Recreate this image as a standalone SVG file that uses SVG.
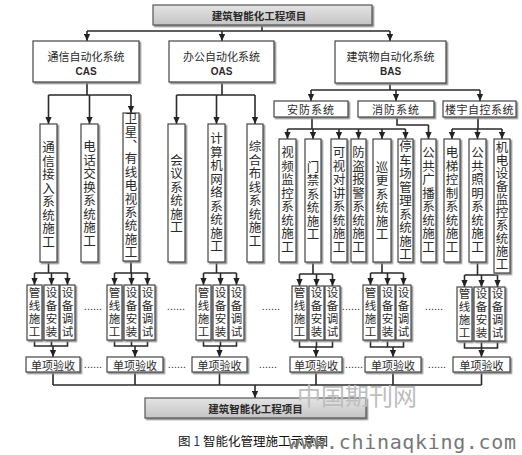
<svg xmlns="http://www.w3.org/2000/svg" width="522" height="455" viewBox="0 0 522 455">
<defs>
<linearGradient id="gray" x1="0" y1="0" x2="0" y2="1"><stop offset="0" stop-color="#e4e4e4"/><stop offset="1" stop-color="#c4c4c4"/></linearGradient>
<filter id="ds" x="-20%" y="-20%" width="140%" height="140%"><feDropShadow dx="1.5" dy="1.5" stdDeviation="0.4" flood-color="#8a8a8a"/></filter>
<marker id="ah" viewBox="0 0 10 10" refX="10" refY="5" markerWidth="7" markerHeight="7" markerUnits="userSpaceOnUse" orient="auto"><path d="M0,0.5 L10,5 L0,9.5 z" fill="#222"/></marker>
<style>
.box{fill:#fff;stroke:#444;stroke-width:1.2;filter:url(#ds)}
.gbox{fill:url(#gray);stroke:#555;stroke-width:1.2;filter:url(#ds)}
.ln{fill:none;stroke:#2a2a2a;stroke-width:1.6}
.ar{fill:none;stroke:#2a2a2a;stroke-width:1.6;marker-end:url(#ah)}
.t{font-family:"Noto Sans CJK SC","Liberation Sans",sans-serif;fill:#2a2a2a;text-anchor:middle;dominant-baseline:central}
.h{font-size:11px}
.b{font-size:10.5px;font-weight:bold}
.v{font-family:"Noto Sans CJK SC",sans-serif;fill:#2a2a2a;font-size:12.5px;writing-mode:vertical-rl;text-anchor:middle;letter-spacing:1px}
.vs{font-family:"Noto Sans CJK SC",sans-serif;fill:#2a2a2a;font-size:11.5px;writing-mode:vertical-rl;text-anchor:middle;letter-spacing:1.5px}
.dots{font-family:"Liberation Sans",sans-serif;font-size:11px;fill:#333;text-anchor:middle}
</style>
</defs>
<rect width="522" height="455" fill="#fff"/>

<g id="connectors">
<path class="ln" d="M262,25 V31 M87,31 H390"/>
<path class="ar" d="M87,31 V41"/><path class="ar" d="M222,31 V41"/><path class="ar" d="M390,31 V41"/>
<path class="ln" d="M87,82 V95 M48.5,95 H131"/>
<path class="ar" d="M48.5,95 V124"/><path class="ar" d="M89.5,95 V124"/><path class="ar" d="M131,95 V113"/>
<path class="ln" d="M222,82 V95 M176.5,95 H255"/>
<path class="ar" d="M176.5,95 V124"/><path class="ar" d="M216.5,95 V124"/><path class="ar" d="M255,95 V124"/>
<path class="ln" d="M390,83 V90 M311,90 H480"/>
<path class="ar" d="M311,90 V101"/><path class="ar" d="M396,90 V101"/><path class="ar" d="M480,90 V101"/>
<path class="ln" d="M312,117 V129 M287.5,129 H405.5"/>
<path class="ar" d="M287.5,129 V139"/><path class="ar" d="M313,129 V139"/><path class="ar" d="M339,129 V139"/><path class="ar" d="M358.5,129 V139"/><path class="ar" d="M382,129 V139"/><path class="ar" d="M405.5,129 V139"/>
<path class="ln" d="M397,117 V125 H428.5"/><path class="ar" d="M428.5,125 V139"/>
<path class="ln" d="M478,117 V129 M452,129 H502"/>
<path class="ar" d="M452,129 V139"/><path class="ar" d="M477.5,129 V139"/><path class="ar" d="M502,129 V139"/>
<!-- group 1 -->
<path class="ln" d="M48.5,262 V273 M34.5,273 H67.5 M34.5,340 V346 H67.5 V340 M51.5,340 V346"/>
<path class="ar" d="M34.5,273 V285"/><path class="ar" d="M51.5,273 V285"/><path class="ar" d="M67.5,273 V285"/><path class="ar" d="M53,346 V357"/>
<!-- group 2 -->
<path class="ln" d="M131,261 V273 M114.5,273 H147.5 M114.5,340 V346 H147.5 V340 M131.5,340 V346"/>
<path class="ar" d="M114.5,273 V285"/><path class="ar" d="M131.5,273 V285"/><path class="ar" d="M147.5,273 V285"/><path class="ar" d="M135,346 V357"/>
<!-- group 3 -->
<path class="ln" d="M216.5,262 V273 M203.5,273 H236.5 M203.5,340 V346 H236.5 V340 M220.5,340 V346"/>
<path class="ar" d="M203.5,273 V285"/><path class="ar" d="M220.5,273 V285"/><path class="ar" d="M236.5,273 V285"/><path class="ar" d="M219.5,346 V357"/>
<!-- group 4 -->
<path class="ln" d="M313,262 V274 M299.5,274 H332.5 M299.5,340 V347 H332.5 V340 M316.5,340 V347"/>
<path class="ar" d="M299.5,274 V286"/><path class="ar" d="M316.5,274 V286"/><path class="ar" d="M332.5,274 V286"/><path class="ar" d="M316,347 V357"/>
<!-- group 5 -->
<path class="ln" d="M382,262 V273 M370.5,273 H403.5 M370.5,340 V347 H403.5 V340 M387.5,340 V347"/>
<path class="ar" d="M370.5,273 V285"/><path class="ar" d="M387.5,273 V285"/><path class="ar" d="M403.5,273 V285"/><path class="ar" d="M393,347 V357"/>
<!-- group 6 -->
<path class="ln" d="M477.5,262 V275 M464.5,275 H497.5 M464.5,341 V348 H497.5 V341 M481.5,341 V348"/>
<path class="ar" d="M464.5,275 V287"/><path class="ar" d="M481.5,275 V287"/><path class="ar" d="M497.5,275 V287"/><path class="ar" d="M481.5,348 V357"/>
<!-- bottom -->
<path class="ln" d="M53,372 V385 M135,372 V385 M219.5,372 V385 M316,372 V385 M393,372 V385 M481.5,372 V385 M53,385 H481.5"/>
<path class="ar" d="M255,385 V398"/>
</g>

<g id="top"><rect class="gbox" x="153" y="5" width="219" height="20"/><text class="t b" x="259" y="15.5">建筑智能化工程项目</text></g>
<g id="cas"><rect class="box" x="33" y="41" width="106" height="41"/><text class="t h" x="86" y="56">通信自动化系统</text><text class="t" x="86" y="71" style="font-family:'Liberation Sans',sans-serif;font-size:10px;font-weight:bold">CAS</text></g>
<g id="oas"><rect class="box" x="169" y="41" width="105" height="41"/><text class="t h" x="221.5" y="56">办公自动化系统</text><text class="t" x="221.5" y="71" style="font-family:'Liberation Sans',sans-serif;font-size:10px;font-weight:bold">OAS</text></g>
<g id="bas"><rect class="box" x="335" y="41" width="111" height="42"/><text class="t h" x="390.5" y="56">建筑物自动化系统</text><text class="t" x="390.5" y="71" style="font-family:'Liberation Sans',sans-serif;font-size:10px;font-weight:bold">BAS</text></g>
<g id="anfang"><rect class="box" x="274" y="101" width="74" height="16"/><text class="t h" x="311" y="109" style="letter-spacing:1px">安防系统</text></g>
<g id="xiaofang"><rect class="box" x="358" y="101" width="76" height="16"/><text class="t h" x="396" y="109" style="letter-spacing:1px">消防系统</text></g>
<g id="louyu"><rect class="box" x="443" y="101" width="73" height="16"/><text class="t h" x="479.5" y="109" style="letter-spacing:0.5px">楼宇自控系统</text></g>

<g id="a1"><rect class="box" x="40" y="124" width="17" height="138"/><text class="v" x="48.5" y="195">通信接入系统施工</text></g>
<g id="a2"><rect class="box" x="81" y="124" width="17" height="138"/><text class="v" x="89.5" y="194">电话交换系统施工</text></g>
<g id="a3"><rect class="box" x="123" y="113" width="16" height="148"/><text class="v" x="131" y="186" style="letter-spacing:0.9px">卫星、有线电视系统施工</text></g>
<g id="b1"><rect class="box" x="168" y="124" width="17" height="138"/><text class="v" x="176.5" y="194">会议系统施工</text></g>
<g id="b2"><rect class="box" x="208" y="124" width="17" height="138"/><text class="v" x="216.5" y="193">计算机网络系统施工</text></g>
<g id="b3"><rect class="box" x="247" y="124" width="16" height="138"/><text class="v" x="255" y="194">综合布线系统施工</text></g>
<g id="c1"><rect class="box" x="279" y="139" width="17" height="123"/><text class="v" x="287.5" y="200">视频监控系统施工</text></g>
<g id="c2"><rect class="box" x="305" y="139" width="16" height="123"/><text class="v" x="313" y="201">门禁系统施工</text></g>
<g id="c3"><rect class="box" x="331" y="139" width="16" height="123"/><text class="v" x="339" y="200">可视对讲系统施工</text></g>
<g id="c4"><rect class="box" x="351" y="139" width="15" height="123"/><text class="v" x="358.5" y="200">防盗报警系统施工</text></g>
<g id="c5"><rect class="box" x="373" y="139" width="18" height="123"/><text class="v" x="382" y="201">巡更系统施工</text></g>
<g id="c6"><rect class="box" x="398" y="139" width="15" height="123"/><text class="v" x="405.5" y="201">停车场管理系统施工</text></g>
<g id="c7"><rect class="box" x="421" y="139" width="15" height="123"/><text class="v" x="428.5" y="200">公共广播系统施工</text></g>
<g id="c8"><rect class="box" x="444" y="139" width="16" height="123"/><text class="v" x="452" y="200">电梯控制系统施工</text></g>
<g id="c9"><rect class="box" x="469" y="139" width="17" height="123"/><text class="v" x="477.5" y="200">公共照明系统施工</text></g>
<g id="c10"><rect class="box" x="494" y="139" width="16" height="134"/><text class="v" x="502" y="206" style="letter-spacing:0.6px">机电设备监控系统施工</text></g>

<g id="g1">
<rect class="box" x="27" y="285" width="15" height="55"/><text class="vs" x="34.5" y="312.5">管线施工</text>
<rect class="box" x="44" y="285" width="15" height="55"/><text class="vs" x="51.5" y="312.5">设备安装</text>
<rect class="box" x="60" y="285" width="15" height="55"/><text class="vs" x="67.5" y="312.5">设备调试</text>
</g>
<g id="g2">
<rect class="box" x="107" y="285" width="15" height="55"/><text class="vs" x="114.5" y="312.5">管线施工</text>
<rect class="box" x="124" y="285" width="15" height="55"/><text class="vs" x="131.5" y="312.5">设备安装</text>
<rect class="box" x="140" y="285" width="15" height="55"/><text class="vs" x="147.5" y="312.5">设备调试</text>
</g>
<g id="g3">
<rect class="box" x="196" y="285" width="15" height="55"/><text class="vs" x="203.5" y="312.5">管线施工</text>
<rect class="box" x="213" y="285" width="15" height="55"/><text class="vs" x="220.5" y="312.5">设备安装</text>
<rect class="box" x="229" y="285" width="15" height="55"/><text class="vs" x="236.5" y="312.5">设备调试</text>
</g>
<g id="g4">
<rect class="box" x="292" y="286" width="15" height="54"/><text class="vs" x="299.5" y="313">管线施工</text>
<rect class="box" x="309" y="286" width="15" height="54"/><text class="vs" x="316.5" y="313">设备安装</text>
<rect class="box" x="325" y="286" width="15" height="54"/><text class="vs" x="332.5" y="313">设备调试</text>
</g>
<g id="g5">
<rect class="box" x="363" y="285" width="15" height="55"/><text class="vs" x="370.5" y="312.5">管线施工</text>
<rect class="box" x="380" y="285" width="15" height="55"/><text class="vs" x="387.5" y="312.5">设备安装</text>
<rect class="box" x="396" y="285" width="15" height="55"/><text class="vs" x="403.5" y="312.5">设备调试</text>
</g>
<g id="g6">
<rect class="box" x="457" y="287" width="15" height="54"/><text class="vs" x="464.5" y="314">管线施工</text>
<rect class="box" x="474" y="287" width="15" height="54"/><text class="vs" x="481.5" y="314">设备安装</text>
<rect class="box" x="490" y="287" width="15" height="54"/><text class="vs" x="497.5" y="314">设备调试</text>
</g>

<g id="d1"><rect class="box" x="26" y="357" width="54" height="15"/><text class="t h" x="53" y="364.5">单项验收</text></g>
<g id="d2"><rect class="box" x="107" y="357" width="56" height="15"/><text class="t h" x="135" y="364.5">单项验收</text></g>
<g id="d3"><rect class="box" x="192" y="357" width="55" height="15"/><text class="t h" x="219.5" y="364.5">单项验收</text></g>
<g id="d4"><rect class="box" x="290" y="357" width="52" height="15"/><text class="t h" x="316" y="364.5">单项验收</text></g>
<g id="d5"><rect class="box" x="365" y="357" width="56" height="15"/><text class="t h" x="393" y="364.5">单项验收</text></g>
<g id="d6"><rect class="box" x="453" y="357" width="57" height="15"/><text class="t h" x="481.5" y="364.5">单项验收</text></g>

<g id="ellipses">
<text class="dots" x="93" y="310">......</text>
<text class="dots" x="176" y="310">......</text>
<text class="dots" x="271" y="310">......</text>
<text class="dots" x="351" y="310">......</text>
<text class="dots" x="434" y="310">......</text>
<text class="dots" x="93" y="368">......</text>
<text class="dots" x="177" y="368">......</text>
<text class="dots" x="268" y="368">......</text>
<text class="dots" x="354" y="368">......</text>
<text class="dots" x="437" y="368">......</text>
</g>

<g id="bottom"><rect class="gbox" x="145" y="398" width="221" height="20"/><text class="t b" x="255.5" y="408.5">建筑智能化工程项目</text></g>

<text x="297" y="405" style="font-family:'Noto Sans CJK SC',sans-serif;font-size:24px;fill:#bdbdbd">中国期刊网</text>
<text x="178" y="446" style="font-family:'Noto Sans CJK SC',sans-serif;font-size:12.5px;fill:#111">图 <tspan fill="#1c3a80">1</tspan> 智能化管理施工示意图</text>
<text x="288" y="449" textLength="228" lengthAdjust="spacing" style="font-family:'DejaVu Sans Mono',monospace;font-size:20px;fill:#777">www.chinaqking.com</text>
</svg>
